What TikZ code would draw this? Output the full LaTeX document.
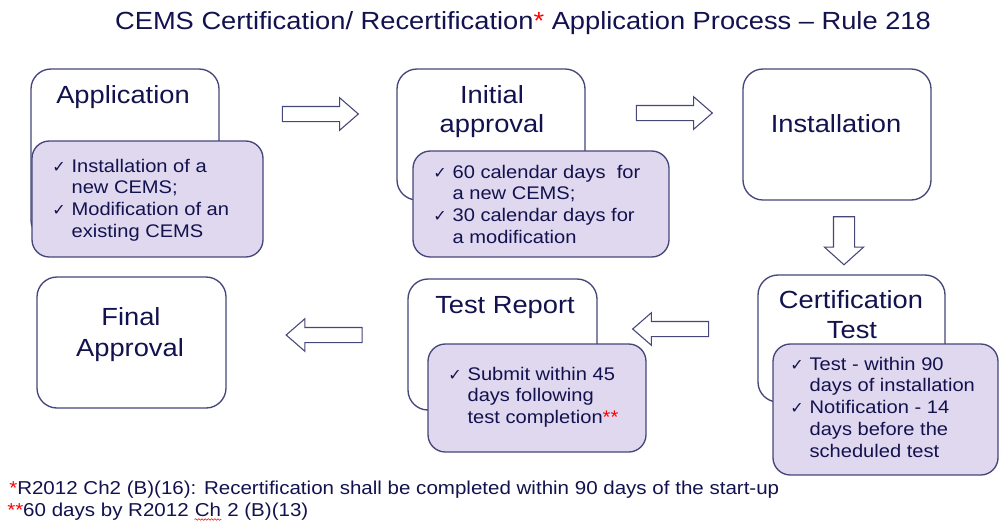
\documentclass[tikz,border=0pt]{standalone}
\usepackage{fontspec}
\setmainfont{Liberation Sans}[FakeStretch=1.1]
\newfontfamily\symfont{DejaVu Sans}
\usetikzlibrary{fit,shapes.arrows,decorations.pathmorphing}

\definecolor{ink}{HTML}{12124F}
\definecolor{edge}{HTML}{45467A}
\definecolor{lilac}{HTML}{E0D8EE}
\definecolor{starred}{HTML}{FF0000}

% check-mark bullet and the matching hanging indent
\newcommand\chk{\makebox[14.5pt][l]{\symfont\fontsize{12}{12}\selectfont ✓}}
\newcommand\gap{\hspace*{14.5pt}}
% left-aligned lines whose baseline is the first line's baseline
\newcommand\toplines[1]{\vtop{\halign{##\hfil\cr#1\crcr}}}

\tikzset{
  stage/.style={draw=edge, line width=1pt, fill=white, rounded corners=15pt, inner sep=0pt},
  note/.style={draw=edge, line width=1pt, fill=lilac, rounded corners=13pt, inner sep=0pt},
  head/.style={text=ink, font=\fontsize{18.6}{23}\selectfont, inner sep=0pt, anchor=base},
  items/.style={text=ink, font=\fontsize{13.7}{16.4}\selectfont, inner sep=0pt,
                anchor=base west},
  foot/.style={items, font=\fontsize{14}{16}\selectfont},
  flow/.style={single arrow, draw=edge, fill=white, line width=0.8pt,
               inner xsep=0pt, inner ysep=5.25pt, minimum height=57pt,
               single arrow head extend=6.6pt, single arrow tip angle=82},
}

\begin{document}
\begin{tikzpicture}[x=0.75pt, y=-0.75pt]
\useasboundingbox (0,0) rectangle (999,522);

% title
\node[head] (title) at (523,29)
  {CEMS Certification/ Recertification\textcolor{starred}{*} Application Process – Rule 218};

% Application
\node[stage, fit={(31,69) (219,240)}] (app) {};
\node[head] (apptitle) at (123,103) {Application};
\node[note, fit={(32,141) (263,257)}] (appnote) {};
\node[items] (appitems) at (52,172)
  {\toplines{\chk Installation of a\cr \gap new CEMS;\cr \chk Modification of an\cr \gap existing CEMS}};

% Initial approval
\node[stage, fit={(397,69) (585,200)}] (ini) {};
\node[head] (initop) at (492,103) {Initial};
\node[head] (inibot) at (492,132) {approval};
\node[note, fit={(413,151) (669,257)}] (ininote) {};
\node[items] (iniitems) at (433,178)
  {\toplines{\chk 60 calendar days\ \ for\cr \gap a new CEMS;\cr \chk 30 calendar days for\cr \gap a modification}};

% Installation
\node[stage, fit={(743,69) (931,200)}] (inst) {};
\node[head] (insttitle) at (836,132) {Installation};

% Certification Test
\node[stage, fit={(758,275) (945,402)}] (cert) {};
\node[head] (certtop) at (851,308) {Certification};
\node[head] (certbot) at (852,338) {Test};
\node[note, fit={(773,344) (998,475)}] (certnote) {};
\node[items] (certitems) at (790,370)
  {\toplines{\chk Test - within 90\cr \gap days of installation\cr \chk Notification - 14\cr \gap days before the\cr \gap scheduled test}};

% Test Report
\node[stage, fit={(408,279) (597,410)}] (rep) {};
\node[head] (reptitle) at (505,313) {Test Report};
\node[note, fit={(428,344) (646,452)}] (repnote) {};
\node[items] (repitems) at (448,380)
  {\toplines{\chk Submit within 45\cr \gap days following\cr \gap test completion\textcolor{starred}{**}}};

% Final Approval
\node[stage, fit={(37,277) (226,408)}] (fin) {};
\node[head] (fintop) at (131,325) {Final};
\node[head] (finbot) at (130,356) {Approval};

% block arrows between the stages
\node[flow] (a1) at (316,114) {};
\node[flow] (a2) at (670,113) {};
\node[flow, rotate=-90, minimum height=36pt, inner ysep=7.5pt,
      single arrow head extend=6.75pt, single arrow tip angle=96] (a3) at (844,236) {};
\node[flow, rotate=180] (a4) at (675,329) {};
\node[flow, rotate=180] (a5) at (328.5,335) {};

% footnotes
\node[foot] (fn1) at (9,494)
  {\textcolor{starred}{*}R2012 Ch2 (B)(16): Recertification shall be completed within 90 days of the start-up};
\node[foot] (fn2a) at (7,516) {\textcolor{starred}{**}60 days by R2012\kern.3em};
\node[foot] (fn2ch) at (fn2a.base east) {Ch};
\node[foot] (fn2b) at (fn2ch.base east) {\kern.3em 2 (B)(13)};
\draw[starred, line width=0.4pt, decorate,
      decoration={snake, amplitude=0.6pt, segment length=2.4pt}]
  ([yshift=-2.6pt]fn2ch.base west) -- ([yshift=-2.6pt]fn2ch.base east);
\end{tikzpicture}
\end{document}
